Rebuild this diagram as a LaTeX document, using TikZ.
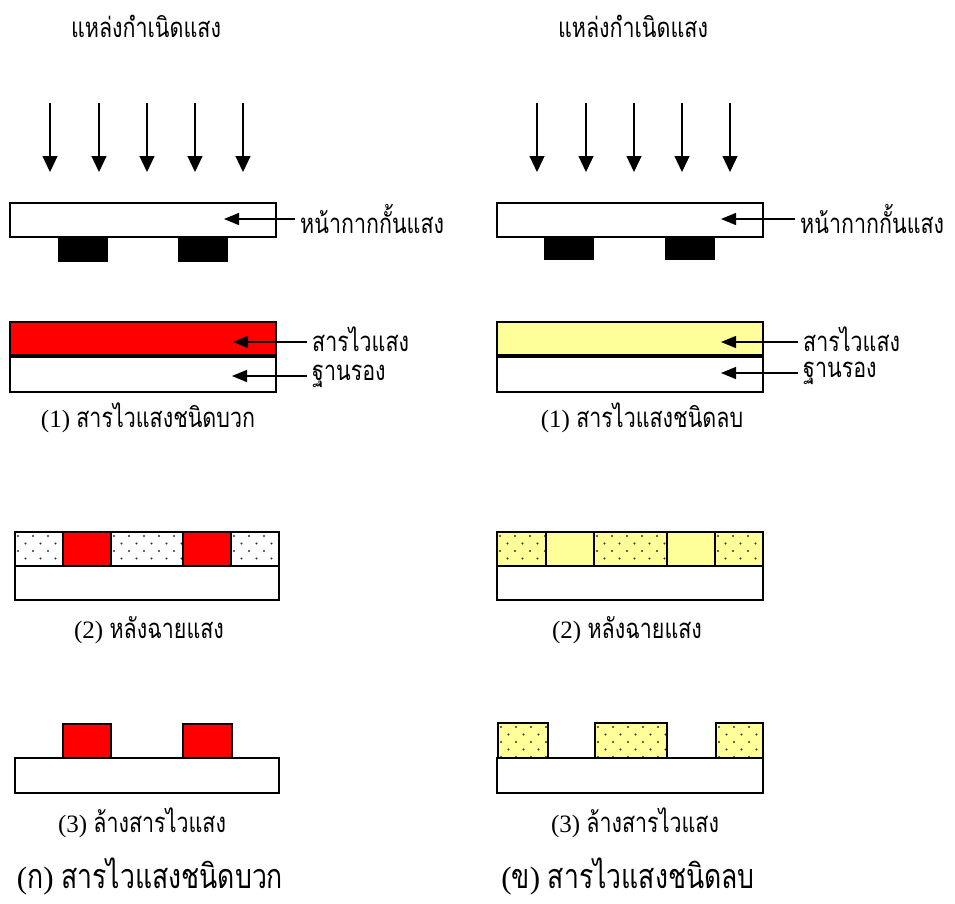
\documentclass[tikz,border=0pt]{standalone}
\usepackage{fontspec}
\setmainfont{Liberation Serif}
\newfontfamily\thaifont[Script=Thai,FakeStretch=0.78,Scale=1.1]{Loma}
\usetikzlibrary{arrows.meta}
\newcommand{\thx}[1]{{\thaifont #1}}
\definecolor{resist}{HTML}{FF0000}
\definecolor{negres}{HTML}{FFFF99}
\definecolor{dotc}{gray}{0.2}
\newcommand{\stipple}[4]{%
  \begin{scope}
    \clip (#1,#2) rectangle (#3,#4);
    \foreach \j in {0,...,5}{
      \foreach \i in {0,...,6}{
        \fill[dotc] ({#1+3+15*\i+7.5*mod(\j,2)},{#2+4+7.5*\j}) circle (1.2);
      }}
  \end{scope}}
\begin{document}
\begin{tikzpicture}[x=1pt,y=-1pt,
  box/.style={draw,line width=1.3pt},
  lbl/.style={font=\fontsize{25}{27}\selectfont,inner sep=0pt,anchor=west},
  captxt/.style={font=\fontsize{25}{27}\selectfont,inner sep=0pt},
  bigcap/.style={font=\fontsize{31}{33}\selectfont,inner sep=0pt},
  ray/.style={-{Triangle[width=15pt,length=16pt]},line width=1.2pt},
  ptr/.style={-{Triangle[width=12pt,length=15pt]},line width=1.3pt,shorten <=5pt}]
\useasboundingbox[fill=white] (0,0) rectangle (955,903);

% ---------------- LEFT (positive) ----------------
\node[captxt] (tL) at (146,26) {\thx{แหล่งกำเนิดแสง}};
\foreach \x [count=\k] in {50,99,147,195,243}{
  \coordinate (rsL\k) at (\x,103);
  \coordinate (reL\k) at (\x,172);
  \draw[ray] (rsL\k) -- (reL\k);
}
\draw[box] (10,203) rectangle (276,237);
\fill (58,237) rectangle (108,262);
\fill (178,237) rectangle (228,262);
\node[lbl] (mL) at (300,219) {\thx{หน้ากากกั้นแสง}};
\coordinate (mLt) at (224,219);
\draw[ptr] (mL.west) -- (mLt);

\draw[box,fill=resist] (10,322) rectangle (276,356);
\draw[box] (10,356) rectangle (276,392);
\draw[line width=3.5pt] (10,356) -- (276,356);
\node[lbl] (sL) at (312,339) {\thx{สารไวแสง}};
\node[lbl] (bL) at (312,376) {\thx{ฐานรอง}};
\coordinate (sLt) at (233,342);
\coordinate (bLt) at (232,376);
\draw[ptr] (sL.west |- sLt) -- (sLt);
\draw[ptr] (bL.west |- bLt) -- (bLt);
\node[captxt] (c1L) at (148,418) {(1) \thx{สารไวแสงชนิดบวก}};

% step 2
\stipple{15}{532}{63}{566}
\stipple{111}{532}{183}{566}
\stipple{231}{532}{279}{566}
\draw[box] (15,532) rectangle (63,566);
\draw[box,fill=resist] (63,532) rectangle (111,566);
\draw[box] (111,532) rectangle (183,566);
\draw[box,fill=resist] (183,532) rectangle (231,566);
\draw[box] (231,532) rectangle (279,566);
\draw[box] (15,566) rectangle (279,600);
\node[captxt] (c2L) at (149,630) {(2) \thx{หลังฉายแสง}};

% step 3
\draw[box] (15,758) rectangle (279,793);
\draw[box,fill=resist] (63,724) rectangle (111,758);
\draw[box,fill=resist] (183,724) rectangle (232,758);
\node[captxt] (c3L) at (142,823) {(3) \thx{ล้างสารไวแสง}};

\node[bigcap] (fL) at (150,876) {(\thx{ก}) \thx{สารไวแสงชนิดบวก}};

% ---------------- RIGHT (negative) ----------------
\node[captxt] (tR) at (633,26) {\thx{แหล่งกำเนิดแสง}};
\foreach \x [count=\k] in {537,586,634,682,730}{
  \coordinate (rsR\k) at (\x,103);
  \coordinate (reR\k) at (\x,172);
  \draw[ray] (rsR\k) -- (reR\k);
}
\draw[box] (497,203) rectangle (763,237);
\fill (544,237) rectangle (594,260);
\fill (665,237) rectangle (715,260);
\node[lbl] (mR) at (800,219) {\thx{หน้ากากกั้นแสง}};
\coordinate (mRt) at (721,219);
\draw[ptr] (mR.west) -- (mRt);

\draw[box,fill=negres] (497,322) rectangle (763,356);
\draw[box] (497,356) rectangle (763,392);
\draw[line width=3.5pt] (497,356) -- (763,356);
\node[lbl] (sR) at (803,339) {\thx{สารไวแสง}};
\node[lbl] (bR) at (803,373) {\thx{ฐานรอง}};
\coordinate (sRt) at (721,342);
\coordinate (bRt) at (721,373);
\draw[ptr] (sR.west |- sRt) -- (sRt);
\draw[ptr] (bR.west |- bRt) -- (bRt);
\node[captxt] (c1R) at (642,418) {(1) \thx{สารไวแสงชนิดลบ}};

% step 2
\fill[negres] (497,532) rectangle (763,566);
\stipple{497}{532}{546}{566}
\stipple{594}{532}{667}{566}
\stipple{715}{532}{763}{566}
\draw[box] (497,532) rectangle (546,566);
\draw[box] (546,532) rectangle (594,566);
\draw[box] (594,532) rectangle (667,566);
\draw[box] (667,532) rectangle (715,566);
\draw[box] (715,532) rectangle (763,566);
\draw[box] (497,566) rectangle (763,600);
\node[captxt] (c2R) at (627,630) {(2) \thx{หลังฉายแสง}};

% step 3
\draw[box] (497,758) rectangle (763,793);
\fill[negres] (498,723) rectangle (548,758);
\fill[negres] (595,723) rectangle (667,758);
\fill[negres] (716,723) rectangle (763,758);
\stipple{498}{723}{548}{758}
\stipple{595}{723}{667}{758}
\stipple{716}{723}{763}{758}
\draw[box] (498,723) rectangle (548,758);
\draw[box] (595,723) rectangle (667,758);
\draw[box] (716,723) rectangle (763,758);
\node[captxt] (c3R) at (635,823) {(3) \thx{ล้างสารไวแสง}};

\node[bigcap] (fR) at (628,876) {(\thx{ข}) \thx{สารไวแสงชนิดลบ}};
\end{tikzpicture}
\end{document}
